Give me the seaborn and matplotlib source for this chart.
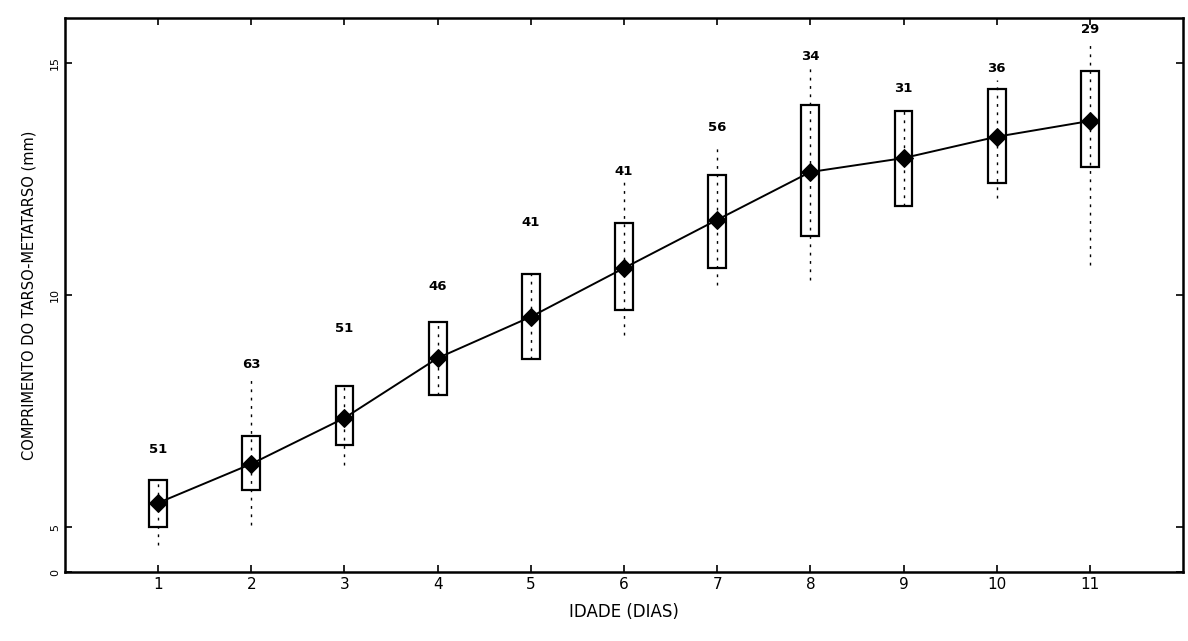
import numpy as np
import pandas as pd
import matplotlib
matplotlib.use("Agg")
import matplotlib.pyplot as plt
import seaborn as sns

# ---- data (mm) ----
idade = [1, 2, 3, 4, 5, 6, 7, 8, 9, 10, 11]
media = [5.52, 6.36, 7.35, 8.64, 9.53, 10.58, 11.62, 12.65, 12.95, 13.41, 13.75]
caixa_inf = [5.00, 5.80, 6.77, 7.84, 8.62, 9.68, 10.58, 11.27, 11.92, 12.41, 12.76]
caixa_sup = [6.01, 6.96, 8.04, 9.42, 10.45, 11.55, 12.59, 14.09, 13.97, 14.44, 14.83]
minimo = [4.61, 5.04, 6.34, 7.84, 8.62, 9.14, 10.22, 10.32, 11.92, 12.09, 10.65]
maximo = [6.01, 8.23, 8.04, 9.42, 10.45, 12.44, 13.23, 14.89, 13.97, 14.63, 15.50]
n_amostra = [51, 63, 51, 46, 41, 41, 56, 34, 31, 36, 29]
n_label_mm = [6.66, 8.51, 9.27, 10.19, 11.57, 12.67, 13.62, 15.15, 14.46, 14.89, 15.73]
x_ticks = [1, 2, 3, 4, 5, 6, 7, 8, 9, 10, 11]
y_ticks = [4.03, 5, 10, 15]
y_tick_labels = ["0", "5", "10", "15"]

df = pd.DataFrame({"idade": idade, "media": media})

sns.set_style("ticks")
plt.rcParams['font.family'] = ['DejaVu Sans']
plt.rcParams['text.color'] = 'black'
plt.rcParams['axes.labelcolor'] = 'black'
plt.rcParams['xtick.color'] = 'black'
plt.rcParams['ytick.color'] = 'black'

fig = plt.figure(figsize=(11.88, 6.41), dpi=100)
ax = fig.add_axes([0.0547, 0.1076, 0.9411, 0.8644])

# range lines (dotted)
ax.vlines(idade, minimo, maximo, colors="black", linestyles=(0, (2, 4)), linewidth=1.0, zorder=1)

# boxes
ax.bar(idade, np.array(caixa_sup) - np.array(caixa_inf), bottom=caixa_inf, width=0.19,
       fill=False, edgecolor="black", linewidth=1.6, zorder=2)

# means connected
sns.lineplot(data=df, x="idade", y="media", ax=ax, color="black", linewidth=1.4,
             marker="D", markersize=9, markeredgecolor="black", markerfacecolor="black",
             zorder=3)

for xi, yi, n in zip(idade, n_label_mm, n_amostra):
    ax.text(xi, yi, str(n), ha="center", va="center", fontsize=9.5, fontweight="bold",
            color="black")

ax.set_xlim(0, 12)
ax.set_ylim(4.03, 15.97)
ax.set_xticks(x_ticks)
ax.set_xticklabels([str(v) for v in x_ticks], fontsize=11)
ax.set_yticks(y_ticks)
ax.set_yticklabels(y_tick_labels, fontsize=8, rotation=90, va="center")
ax.tick_params(direction="in", top=True, right=True, length=5, width=1.2)
for s in ax.spines.values():
    s.set_linewidth(1.8)
    s.set_color("black")

ax.set_xlabel("IDADE (DIAS)", fontsize=12, labelpad=8)
ax.set_ylabel("COMPRIMENTO DO TARSO-METATARSO (mm)", fontsize=10.5, labelpad=10)

fig.savefig("out.png", dpi=100)
